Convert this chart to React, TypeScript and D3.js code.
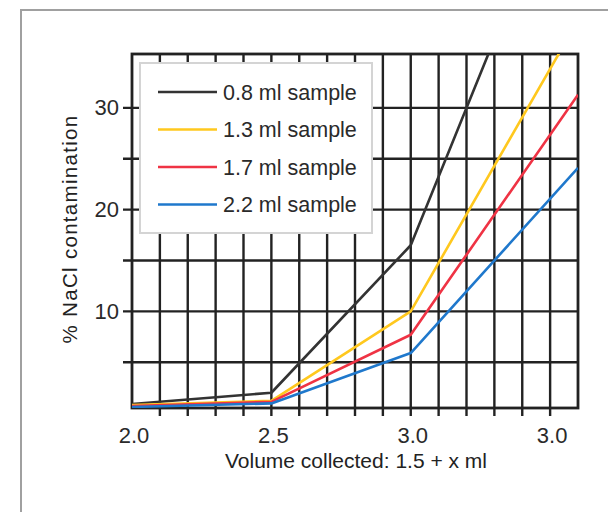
import React from "react";
import * as d3 from "d3";

const xValues = [2.0, 2.5, 3.0, 3.6];
const seriesNames = ["0.8 ml sample", "1.3 ml sample", "1.7 ml sample", "2.2 ml sample"];
const seriesColors = ["#333333", "#ffc81e", "#ef3344", "#1f78cc"];
const s08 = [0.9, 2.0, 16.5, 57];
const s13 = [0.8, 1.2, 10.0, 38.6];
const s17 = [0.7, 1.1, 7.7, 31.3];
const s22 = [0.6, 0.95, 5.9, 24.1];
const seriesValues = [s08, s13, s17, s22];

const xTickValues = [2.0, 2.5, 3.0, 3.5];
const xTickLabels = ["2.0", "2.5", "3.0", "3.0"];
const xGridValues = d3.range(2.1, 3.55, 0.1);
const yTickValues = [10, 20, 30];
const yGridValues = [5, 10, 15, 20, 25, 30];

const xTitle = "Volume collected: 1.5 + x ml";
const yTitle = "% NaCl contamination";

export default function App() {
  const W = 608, H = 512;
  const left = 132, right = 578, top = 54, bottom = 408;
  const x = d3.scaleLinear().domain([2.0, 3.6]).range([left, right]);
  const y = d3.scaleLinear().domain([0.5, 35.3]).range([bottom, top]);
  const line = d3.line<number>().x((_, i) => x(xValues[i])).y((d) => y(d));
  const font = "'Liberation Sans', Arial, Helvetica, sans-serif";
  const grid = "#222";
  const legend = { x: 140, y: 63, w: 232, h: 170 };
  const rowY = (i: number) => 92 + i * 37.5;

  return (
    <svg width={W} height={H} style={{ position: "absolute", left: 0, top: 0, background: "#fff" }} fontFamily={font}>
      <rect x={21} y={10} width={W} height={H} fill="#fff" stroke="#a0a0a0" strokeWidth={2} />
      <defs>
        <clipPath id="plotClip">
          <rect x={left} y={top} width={right - left} height={bottom - top} />
        </clipPath>
      </defs>
      {xGridValues.map((v, i) => (
        <line key={"vx" + i} x1={x(v)} x2={x(v)} y1={top} y2={bottom + 8} stroke={grid} strokeWidth={2.4} />
      ))}
      {yGridValues.map((v, i) => (
        <line key={"hy" + i} x1={left - 9} x2={right} y1={y(v)} y2={y(v)} stroke={grid} strokeWidth={2.4} />
      ))}
      <rect x={left} y={top} width={right - left} height={bottom - top} fill="none" stroke={grid} strokeWidth={2.8} />
      <g clipPath="url(#plotClip)">
        {seriesValues.map((s, i) => (
          <path key={"s" + i} d={line(s) || ""} fill="none" stroke={seriesColors[i]} strokeWidth={2.6} strokeLinejoin="round" />
        ))}
      </g>
      <rect x={legend.x} y={legend.y} width={legend.w} height={legend.h} fill="#fff" stroke="#d4d4d4" strokeWidth={2} />
      {seriesNames.map((n, i) => (
        <g key={"lg" + i}>
          <line x1={158} x2={217} y1={rowY(i)} y2={rowY(i)} stroke={seriesColors[i]} strokeWidth={2.4} />
          <text x={223} y={rowY(i) + 7.5} fontSize={21.5} fill="#2a2a2a">{n}</text>
        </g>
      ))}
      {yTickValues.map((v, i) => (
        <text key={"yt" + i} x={119} y={y(v) + 7.5} fontSize={22} fill="#2a2a2a" textAnchor="end">{String(v)}</text>
      ))}
      {xTickValues.map((v, i) => (
        <text key={"xt" + i} x={x(v) + 2} y={443} fontSize={22} fill="#2a2a2a" textAnchor="middle">{xTickLabels[i]}</text>
      ))}
      <text x={356} y={468} fontSize={21} fill="#222" textAnchor="middle">{xTitle}</text>
      <text transform={`translate(77,229) rotate(-90)`} fontSize={20.5} fill="#222" textAnchor="middle" letterSpacing={1.3}>{yTitle}</text>
    </svg>
  );
}
